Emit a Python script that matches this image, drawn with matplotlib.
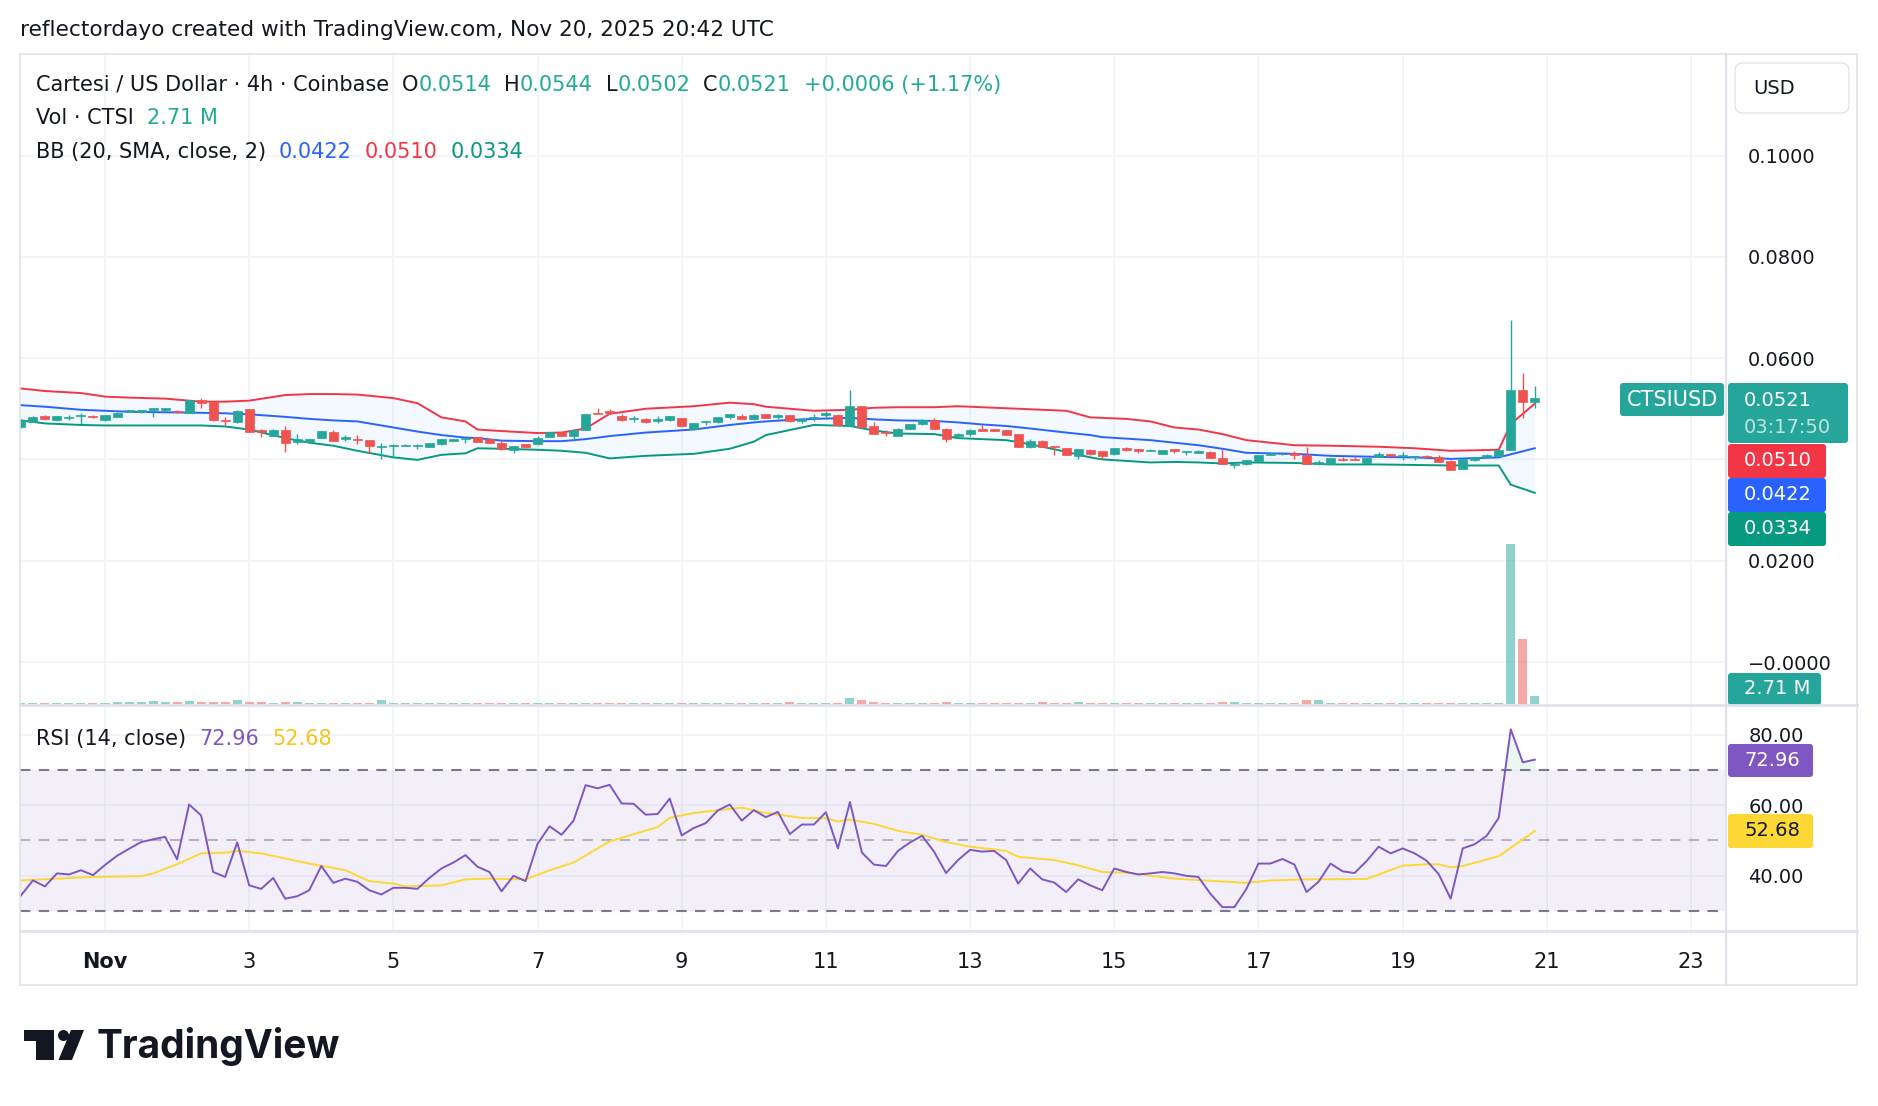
import matplotlib
matplotlib.use("Agg")
import matplotlib.pyplot as plt
from matplotlib.patches import FancyBboxPatch, Circle, Polygon
from matplotlib.lines import Line2D
from matplotlib.transforms import IdentityTransform
import numpy as np

plt.rcParams['font.family'] = ['DejaVu Sans']

W, H = 1878, 1106

# 4h candles of CTSI/USD, first one Oct 30 20:00 UTC (index 7 = Nov 1 00:00)
opens = [0.0463, 0.0474, 0.0486, 0.0478, 0.0482, 0.0486, 0.0486, 0.0477, 0.0484, 0.0494,
         0.0493, 0.0498, 0.0498, 0.0496, 0.0492, 0.0517, 0.0514, 0.0478, 0.0473, 0.0499,
         0.0458, 0.0447, 0.0458, 0.0435, 0.0434, 0.0443, 0.0455, 0.0440, 0.0440, 0.0438,
         0.0425, 0.0427, 0.0427, 0.0427, 0.0425, 0.0430, 0.0436, 0.0440, 0.0444, 0.0440,
         0.0432, 0.0419, 0.0430, 0.0430, 0.0445, 0.0454, 0.0446, 0.0459, 0.0492, 0.0496,
         0.0486, 0.0479, 0.0480, 0.0476, 0.0477, 0.0481, 0.0461, 0.0473, 0.0473, 0.0483,
         0.0486, 0.0479, 0.0489, 0.0484, 0.0488, 0.0475, 0.0481, 0.0488, 0.0488, 0.0466,
         0.0505, 0.0466, 0.0454, 0.0447, 0.0461, 0.0469, 0.0478, 0.0461, 0.0447, 0.0450,
         0.0461, 0.0460, 0.0458, 0.0450, 0.0424, 0.0436, 0.0427, 0.0423, 0.0407, 0.0419,
         0.0416, 0.0410, 0.0422, 0.0421, 0.0417, 0.0411, 0.0421, 0.0414, 0.0413, 0.0415,
         0.0402, 0.0388, 0.0390, 0.0396, 0.0409, 0.0410, 0.0412, 0.0409, 0.0391, 0.0391,
         0.0401, 0.0401, 0.0392, 0.0405, 0.0410, 0.0406, 0.0404, 0.0407, 0.0405, 0.0397,
         0.0382, 0.0398, 0.0405, 0.0407, 0.0419, 0.0537, 0.0514]
highs = [0.0479, 0.0486, 0.0487, 0.0486, 0.0488, 0.0491, 0.0487, 0.0488, 0.0493, 0.0498,
         0.0497, 0.0501, 0.0501, 0.0497, 0.0518, 0.0521, 0.0515, 0.0484, 0.0497, 0.0500,
         0.0461, 0.0460, 0.0465, 0.0450, 0.0441, 0.0457, 0.0459, 0.0448, 0.0448, 0.0439,
         0.0432, 0.0430, 0.0430, 0.0430, 0.0432, 0.0440, 0.0441, 0.0443, 0.0444, 0.0440,
         0.0438, 0.0427, 0.0431, 0.0447, 0.0455, 0.0455, 0.0460, 0.0490, 0.0501, 0.0499,
         0.0490, 0.0486, 0.0481, 0.0486, 0.0486, 0.0482, 0.0472, 0.0476, 0.0484, 0.0490,
         0.0490, 0.0490, 0.0490, 0.0490, 0.0488, 0.0481, 0.0490, 0.0495, 0.0489, 0.0537,
         0.0506, 0.0474, 0.0458, 0.0462, 0.0470, 0.0480, 0.0481, 0.0462, 0.0452, 0.0460,
         0.0468, 0.0461, 0.0459, 0.0451, 0.0440, 0.0438, 0.0427, 0.0423, 0.0420, 0.0421,
         0.0417, 0.0423, 0.0425, 0.0421, 0.0420, 0.0419, 0.0421, 0.0417, 0.0419, 0.0416,
         0.0420, 0.0394, 0.0399, 0.0409, 0.0412, 0.0414, 0.0417, 0.0425, 0.0399, 0.0402,
         0.0405, 0.0405, 0.0402, 0.0415, 0.0411, 0.0415, 0.0407, 0.0408, 0.0409, 0.0398,
         0.0401, 0.0405, 0.0410, 0.0419, 0.0675, 0.0571, 0.0544]
lows = [0.0462, 0.0473, 0.0478, 0.0476, 0.0478, 0.0470, 0.0481, 0.0476, 0.0484, 0.0494,
        0.0492, 0.0484, 0.0494, 0.0492, 0.0491, 0.0502, 0.0476, 0.0468, 0.0472, 0.0454,
        0.0445, 0.0446, 0.0415, 0.0430, 0.0432, 0.0442, 0.0436, 0.0436, 0.0430, 0.0412,
        0.0400, 0.0404, 0.0426, 0.0420, 0.0424, 0.0429, 0.0436, 0.0432, 0.0434, 0.0432,
        0.0419, 0.0413, 0.0423, 0.0429, 0.0444, 0.0446, 0.0437, 0.0458, 0.0489, 0.0490,
        0.0475, 0.0473, 0.0472, 0.0471, 0.0476, 0.0464, 0.0460, 0.0467, 0.0472, 0.0480,
        0.0479, 0.0478, 0.0482, 0.0480, 0.0474, 0.0472, 0.0476, 0.0480, 0.0468, 0.0465,
        0.0463, 0.0450, 0.0447, 0.0446, 0.0460, 0.0468, 0.0460, 0.0435, 0.0446, 0.0446,
        0.0457, 0.0457, 0.0448, 0.0425, 0.0423, 0.0425, 0.0408, 0.0409, 0.0400, 0.0408,
        0.0400, 0.0409, 0.0417, 0.0413, 0.0416, 0.0411, 0.0412, 0.0408, 0.0413, 0.0403,
        0.0390, 0.0384, 0.0389, 0.0395, 0.0409, 0.0409, 0.0401, 0.0390, 0.0389, 0.0390,
        0.0396, 0.0398, 0.0391, 0.0405, 0.0407, 0.0399, 0.0399, 0.0404, 0.0394, 0.0380,
        0.0381, 0.0397, 0.0404, 0.0406, 0.0418, 0.0481, 0.0502]
closes = [0.0478, 0.0484, 0.0479, 0.0485, 0.0484, 0.0488, 0.0484, 0.0487, 0.0492, 0.0497,
          0.0497, 0.0501, 0.0501, 0.0493, 0.0517, 0.0512, 0.0477, 0.0475, 0.0496, 0.0455,
          0.0455, 0.0459, 0.0433, 0.0440, 0.0441, 0.0456, 0.0436, 0.0444, 0.0438, 0.0427,
          0.0427, 0.0429, 0.0429, 0.0429, 0.0432, 0.0440, 0.0441, 0.0443, 0.0435, 0.0433,
          0.0420, 0.0426, 0.0424, 0.0442, 0.0454, 0.0447, 0.0459, 0.0490, 0.0489, 0.0492,
          0.0478, 0.0482, 0.0473, 0.0479, 0.0486, 0.0465, 0.0471, 0.0475, 0.0483, 0.0490,
          0.0479, 0.0488, 0.0482, 0.0487, 0.0475, 0.0480, 0.0483, 0.0491, 0.0468, 0.0505,
          0.0463, 0.0451, 0.0452, 0.0461, 0.0470, 0.0477, 0.0461, 0.0440, 0.0450, 0.0458,
          0.0457, 0.0457, 0.0449, 0.0425, 0.0436, 0.0425, 0.0424, 0.0409, 0.0420, 0.0411,
          0.0407, 0.0423, 0.0418, 0.0417, 0.0419, 0.0419, 0.0417, 0.0417, 0.0417, 0.0403,
          0.0390, 0.0390, 0.0399, 0.0409, 0.0412, 0.0411, 0.0409, 0.0391, 0.0395, 0.0402,
          0.0398, 0.0398, 0.0402, 0.0410, 0.0407, 0.0409, 0.0407, 0.0404, 0.0394, 0.0380,
          0.0401, 0.0405, 0.0409, 0.0419, 0.0537, 0.0514, 0.0521]
volumes_m = [0.7, 0.6, 0.6, 0.5, 0.6, 0.6, 0.5, 0.7, 0.8, 0.9,
             1.0, 1.2, 0.8, 0.9, 1.4, 1.0, 0.9, 1.0, 1.5, 0.8,
             0.9, 0.7, 1.0, 0.9, 0.6, 0.6, 0.7, 0.6, 0.5, 0.7,
             1.6, 0.6, 0.5, 0.5, 0.6, 0.6, 0.5, 0.6, 0.7, 0.6,
             0.7, 0.6, 0.5, 0.6, 0.7, 0.6, 0.5, 0.7, 0.6, 0.6,
             0.7, 0.5, 0.6, 0.5, 0.6, 0.6, 0.5, 0.6, 0.5, 0.6,
             0.5, 0.6, 0.5, 0.6, 0.8, 0.6, 0.5, 0.6, 0.7, 2.2,
             1.5, 0.8, 0.6, 0.7, 0.6, 0.5, 0.6, 0.9, 0.6, 0.6,
             0.5, 0.6, 0.5, 0.7, 0.6, 0.9, 0.6, 0.6, 1.0, 0.6,
             0.5, 0.6, 0.5, 0.6, 0.5, 0.6, 0.5, 0.6, 0.6, 0.7,
             1.1, 1.0, 0.6, 0.5, 0.6, 0.5, 0.6, 1.6, 1.6, 0.6,
             0.6, 0.6, 0.6, 0.6, 0.6, 0.6, 0.6, 0.6, 0.6, 0.6,
             0.6, 0.6, 0.6, 0.6, 50.8, 20.8, 2.71]

# Bollinger Bands (20, SMA, close, 2) read at these candle indices
bb_idx = [0, 2, 5, 7, 9, 12, 15, 17, 19, 22, 24, 26, 28, 31, 33, 35, 37, 38, 40, 43,
          45, 47, 49, 52, 56, 59, 61, 62, 64, 66, 69, 71, 73, 76, 78, 80, 82, 84, 87, 89,
          90, 92, 94, 96, 98, 100, 102, 106, 109, 113, 116, 119, 123, 124, 125, 126]
bb_upper = [0.0540, 0.0535, 0.0531, 0.0524, 0.0522, 0.0520, 0.0514, 0.0514, 0.0516, 0.0527,
            0.0529, 0.0529, 0.0528, 0.0521, 0.0511, 0.0483, 0.0475, 0.0459, 0.0456, 0.0452,
            0.0453, 0.0461, 0.0490, 0.0500, 0.0505, 0.0512, 0.0509, 0.0504, 0.0500, 0.0496,
            0.0498, 0.0502, 0.0503, 0.0503, 0.0505, 0.0503, 0.0501, 0.0499, 0.0496, 0.0483,
            0.0482, 0.0480, 0.0475, 0.0463, 0.0459, 0.0450, 0.0438, 0.0428, 0.0427, 0.0425,
            0.0422, 0.0417, 0.0419, 0.0470, 0.0490, 0.0510]
bb_basis = [0.0507, 0.0504, 0.0498, 0.0496, 0.0494, 0.0493, 0.0492, 0.0491, 0.0489, 0.0484,
            0.0480, 0.0477, 0.0475, 0.0463, 0.0455, 0.0448, 0.0443, 0.0442, 0.0437, 0.0436,
            0.0436, 0.0440, 0.0446, 0.0453, 0.0459, 0.0468, 0.0473, 0.0475, 0.0478, 0.0480,
            0.0482, 0.0479, 0.0477, 0.0476, 0.0473, 0.0469, 0.0466, 0.0461, 0.0453, 0.0448,
            0.0444, 0.0441, 0.0438, 0.0433, 0.0428, 0.0421, 0.0413, 0.0411, 0.0407, 0.0405,
            0.0404, 0.0401, 0.0404, 0.0410, 0.0416, 0.0422]
bb_lower = [0.0477, 0.0471, 0.0468, 0.0467, 0.0467, 0.0467, 0.0467, 0.0465, 0.0459, 0.0442,
            0.0433, 0.0427, 0.0417, 0.0404, 0.0399, 0.0409, 0.0412, 0.0422, 0.0421, 0.0419,
            0.0417, 0.0413, 0.0402, 0.0407, 0.0411, 0.0421, 0.0435, 0.0448, 0.0458, 0.0468,
            0.0466, 0.0457, 0.0451, 0.0450, 0.0442, 0.0440, 0.0438, 0.0430, 0.0415, 0.0404,
            0.0400, 0.0397, 0.0394, 0.0395, 0.0394, 0.0392, 0.0394, 0.0393, 0.0390, 0.0390,
            0.0389, 0.0388, 0.0388, 0.0350, 0.0342, 0.0334]

# RSI (14, close), one value per candle
rsi = [34.3, 38.6, 36.9, 40.6, 40.3, 41.5, 40.1, 43.0, 45.6, 47.6,
       49.5, 50.3, 51.0, 44.6, 60.2, 57.1, 41.0, 39.6, 49.4, 37.2,
       36.2, 39.3, 33.4, 34.1, 35.8, 42.7, 37.9, 39.1, 38.2, 35.8,
       34.6, 36.5, 36.5, 36.2, 39.3, 42.0, 43.7, 45.8, 42.5, 41.0,
       35.5, 39.9, 38.4, 49.0, 54.0, 51.6, 55.6, 65.7, 64.8, 65.8,
       60.5, 60.4, 57.3, 57.5, 61.9, 51.4, 53.5, 54.9, 58.5, 60.2,
       55.6, 58.6, 56.6, 58.1, 51.8, 54.5, 54.5, 58.0, 47.7, 60.9,
       46.5, 43.1, 42.7, 47.0, 49.4, 51.3, 46.8, 40.7, 44.4, 47.3,
       46.8, 47.0, 44.4, 37.7, 42.0, 38.9, 38.0, 35.3, 38.9, 37.2,
       35.8, 42.0, 41.0, 40.3, 40.6, 41.0, 40.6, 39.9, 39.6, 34.8,
       31.0, 31.0, 36.2, 43.4, 43.4, 44.7, 43.1, 35.3, 38.2, 43.4,
       41.2, 40.7, 44.1, 48.2, 46.3, 47.7, 46.3, 44.2, 40.4, 33.4,
       47.7, 48.9, 51.3, 56.4, 81.6, 72.2, 72.96]
rsi_ma_idx = [0, 3, 6, 10, 11, 13, 15, 17, 18, 20, 24, 27, 29, 31, 32, 35, 37, 39, 42, 44,
              46, 49, 53, 54, 56, 60, 62, 65, 67, 68, 69, 71, 73, 75, 77, 79, 82, 83, 86, 88,
              90, 92, 96, 102, 104, 107, 112, 115, 117, 118, 119, 120, 123, 126]
rsi_ma = [38.6, 39.1, 39.6, 39.8, 40.6, 43.2, 46.3, 46.5, 47.0, 46.3, 43.4, 41.5, 38.4, 37.7,
          36.9, 37.2, 38.9, 39.1, 38.9, 41.5, 43.7, 49.7, 53.8, 56.4, 57.8, 59.3, 57.8, 56.4,
          56.3, 55.4, 55.9, 54.7, 52.7, 51.6, 49.5, 48.2, 47.0, 45.3, 44.4, 42.9, 41.0, 40.8,
          39.1, 37.9, 38.6, 38.9, 39.0, 42.8, 43.2, 43.2, 42.3, 42.7, 45.5, 52.68]

day_ticks = [0, 2, 4, 6, 8, 10, 12, 14, 16, 18, 20, 22]
day_labels = ['Nov', '3', '5', '7', '9', '11', '13', '15', '17', '19', '21', '23']
price_ticks = [0.0, 0.02, 0.04, 0.06, 0.08, 0.10]
# the 0.0400 label sits under the indicator tags, so it is left blank
price_labels = ['\u22120.0000', '0.0200', '', '0.0600', '0.0800', '0.1000']

UP = '#26A69A'
DOWN = '#EF5350'
TEXT = '#131722'
GRID = '#F0F3FA'
BORDER = '#E0E3EB'


def fx(x):
    return x / W


def fy(y):
    return 1 - y / H


def rect(x0, y0, x1, y1):
    return [fx(x0), fy(y1), (x1 - x0) / W, (y1 - y0) / H]


def candle_day(idx):
    return (np.asarray(idx, dtype=float) - 7) / 6.0


fig = plt.figure(figsize=(W / 100, H / 100), dpi=100)
fig.patch.set_facecolor('white')

xlim = ((20 - 105) / 72.09, (1726 - 105) / 72.09)

ax_main = fig.add_axes(rect(20, 54, 1726, 705))
ax_vol = fig.add_axes(rect(20, 54, 1726, 705), sharex=ax_main)
ax_rsi = fig.add_axes(rect(20, 705, 1726, 931), sharex=ax_main)

for a in (ax_main, ax_vol, ax_rsi):
    for s in a.spines.values():
        s.set_visible(False)
ax_vol.patch.set_alpha(0)

ax_main.set_xlim(*xlim)
ax_main.set_ylim((662 - 705) / 5065, (662 - 54) / 5065)
ax_rsi.set_ylim(40 - (931 - 875.5) / 3.515, 40 + (875.5 - 705) / 3.515)
ax_vol.set_ylim(0, 651 / 3.17)

t = candle_day(np.arange(len(closes)))
o = np.array(opens)
c = np.array(closes)
up = c >= o

# grid
ax_main.set_xticks(day_ticks)
ax_main.set_yticks(price_ticks)
ax_main.set_yticklabels(price_labels)
ax_main.grid(True, color=GRID, lw=1.2)
ax_main.set_axisbelow(True)
ax_main.yaxis.tick_right()
ax_main.tick_params(axis='y', length=0, pad=16, labelsize=14, labelcolor=TEXT)
ax_main.tick_params(axis='x', length=0, labelbottom=False)
ax_vol.set_yticks([])
ax_vol.tick_params(axis='x', length=0, labelbottom=False)

# volume
ax_vol.bar(t, volumes_m, width=0.125, color=np.where(up, UP, DOWN), alpha=0.5, lw=0)

# bollinger bands
bb_t = candle_day(bb_idx)
ax_main.fill_between(bb_t, bb_lower, bb_upper, color='#2196F3', alpha=0.05, lw=0)
ax_main.plot(bb_t, bb_upper, color='#F23645', lw=1.4)
ax_main.plot(bb_t, bb_basis, color='#2962FF', lw=1.4)
ax_main.plot(bb_t, bb_lower, color='#089981', lw=1.4)

# candles
colors = np.where(up, UP, DOWN)
ax_main.vlines(t, lows, highs, colors=colors, lw=1.0, zorder=3)
ax_main.bar(t, c - o, bottom=o, width=0.125, color=colors, edgecolor=colors, lw=0.5, zorder=4)

# RSI pane
ax_rsi.set_yticks([40, 60, 80])
ax_rsi.set_yticklabels(['40.00', '60.00', '80.00'])
ax_rsi.grid(True, color=GRID, lw=1.2)
ax_rsi.set_axisbelow(True)
ax_rsi.yaxis.tick_right()
ax_rsi.tick_params(axis='y', length=0, pad=16, labelsize=14, labelcolor=TEXT)
ax_rsi.set_xticks(day_ticks)
ax_rsi.set_xticklabels(day_labels)
ax_rsi.tick_params(axis='x', length=0, pad=15, labelsize=15, labelcolor=TEXT)
ax_rsi.get_xticklabels()[0].set_fontweight('bold')
ax_rsi.axhspan(30, 70, color='#7E57C2', alpha=0.09, lw=0)
for lvl, al in ((70, 1.0), (50, 0.5), (30, 1.0)):
    ax_rsi.axhline(lvl, color='#787B86', alpha=al, lw=1.5, ls=(0, (5, 4)))
rsi_arr = np.array(rsi)
ax_rsi.fill_between(t, rsi_arr, 70, where=rsi_arr >= 70, interpolate=True,
                    color='#089981', alpha=0.08, lw=0)
ax_rsi.plot(candle_day(rsi_ma_idx), rsi_ma, color='#FDD835', lw=1.4)
ax_rsi.plot(t, rsi, color='#7E57C2', lw=1.4)


# frame and separators
def fline(x0, y0, x1, y1, color=BORDER, lw=1.2):
    fig.add_artist(Line2D([fx(x0), fx(x1)], [fy(y0), fy(y1)], color=color, lw=lw))


fline(20, 54, 1857, 54)
fline(20, 985, 1857, 985)
fline(20, 54, 20, 985)
fline(1857, 54, 1857, 985)
fline(1726, 54, 1726, 985, lw=1.6)
fline(20, 705, 1857, 705, lw=2.0)
fline(20, 931, 1857, 931, lw=2.0)


# legends
def legend_row(ax, x, y, parts, size=15):
    prev = None
    for s, color, gap in parts:
        if prev is None:
            prev = ax.annotate(s, xy=(fx(x), fy(y)), xycoords='figure fraction', va='center',
                               ha='left', color=color, fontsize=size, annotation_clip=False)
        else:
            prev = ax.annotate(s, xy=(1, 0.5), xycoords=prev, xytext=(gap, 0),
                               textcoords='offset pixels', va='center', ha='left',
                               color=color, fontsize=size, annotation_clip=False)


VAL = '#22AB94'
legend_row(ax_main, 36, 85, [("Cartesi / US Dollar \u00b7 4h \u00b7 Coinbase", TEXT, 0),
                             ("O", TEXT, 13), ("0.0514", VAL, 0),
                             ("H", TEXT, 13), ("0.0544", VAL, 0),
                             ("L", TEXT, 13), ("0.0502", VAL, 0),
                             ("C", TEXT, 13), ("0.0521", VAL, 0),
                             ("+0.0006 (+1.17%)", VAL, 13)])
legend_row(ax_main, 36, 118.5, [("Vol \u00b7 CTSI", TEXT, 0), ("2.71 M", VAL, 13)])
legend_row(ax_main, 36, 152, [("BB (20, SMA, close, 2)", TEXT, 0), ("0.0422", '#2962FF', 13),
                              ("0.0510", '#F23645', 13), ("0.0334", '#089981', 13)])
legend_row(ax_rsi, 36, 739, [("RSI (14, close)", TEXT, 0), ("72.96", '#7E57C2', 13),
                             ("52.68", '#F5C518', 13)])

fig.text(fx(20), fy(30), "reflectordayo created with TradingView.com, Nov 20, 2025 20:42 UTC",
         fontsize=15.6, color=TEXT, va='center', ha='left')


# price scale tags
def tag(x0, y0, x1, y1, color, radius=3):
    fig.add_artist(FancyBboxPatch((x0, H - y1), x1 - x0, y1 - y0,
                                  boxstyle='round,pad=0,rounding_size=%d' % radius,
                                  transform=IdentityTransform(), fc=color, ec='none'))


def tag_text(x, y, s, color='white', size=14, ha='left', alpha=1.0):
    fig.text(fx(x), fy(y), s, color=color, fontsize=size, va='center', ha=ha, alpha=alpha)


fig.add_artist(FancyBboxPatch((1735, H - 113), 114, 50, boxstyle='round,pad=0,rounding_size=8',
                              transform=IdentityTransform(), fc='white', ec=BORDER, lw=1))
tag_text(1753, 88, 'USD', color=TEXT, size=14)

tag(1620, 383, 1724, 416, UP)
tag_text(1672, 400, 'CTSIUSD', size=15, ha='center')
tag(1728, 383, 1848, 443, UP)
tag_text(1744, 400, '0.0521')
tag_text(1744, 427, '03:17:50', alpha=0.7)
tag(1728, 444, 1826, 478, '#F23645')
tag_text(1744, 461, '0.0510')
tag(1728, 478, 1826, 512, '#2962FF')
tag_text(1744, 495, '0.0422')
tag(1728, 512, 1826, 546, '#089981')
tag_text(1744, 529, '0.0334')
tag(1728, 673, 1821, 705, UP)
tag_text(1744, 689, '2.71 M')
tag(1728, 744, 1813, 777, '#7E57C2')
tag_text(1744, 760, '72.96')
tag(1728, 814, 1813, 848, '#FDD835')
tag_text(1744, 831, '52.68', color=TEXT)

# TradingView logo
LOGO = '#131722'
fig.add_artist(Polygon([(24, H - 1030), (53.5, H - 1030), (53.5, H - 1060), (35.5, H - 1060),
                        (35.5, H - 1041), (24, H - 1041)], closed=True,
                       transform=IdentityTransform(), fc=LOGO, ec='none'))
fig.add_artist(Circle((63.5, H - 1035.5), 5.5, transform=IdentityTransform(), fc=LOGO, ec='none'))
fig.add_artist(Polygon([(71, H - 1030), (84, H - 1030), (72, H - 1060), (58.5, H - 1060)],
                       closed=True, transform=IdentityTransform(), fc=LOGO, ec='none'))
fig.text(fx(97), fy(1046), 'TradingView', fontsize=28, fontweight='bold', family='Inter',
         color=LOGO, va='center', ha='left')

fig.savefig('out.png', dpi=100, facecolor='white')
